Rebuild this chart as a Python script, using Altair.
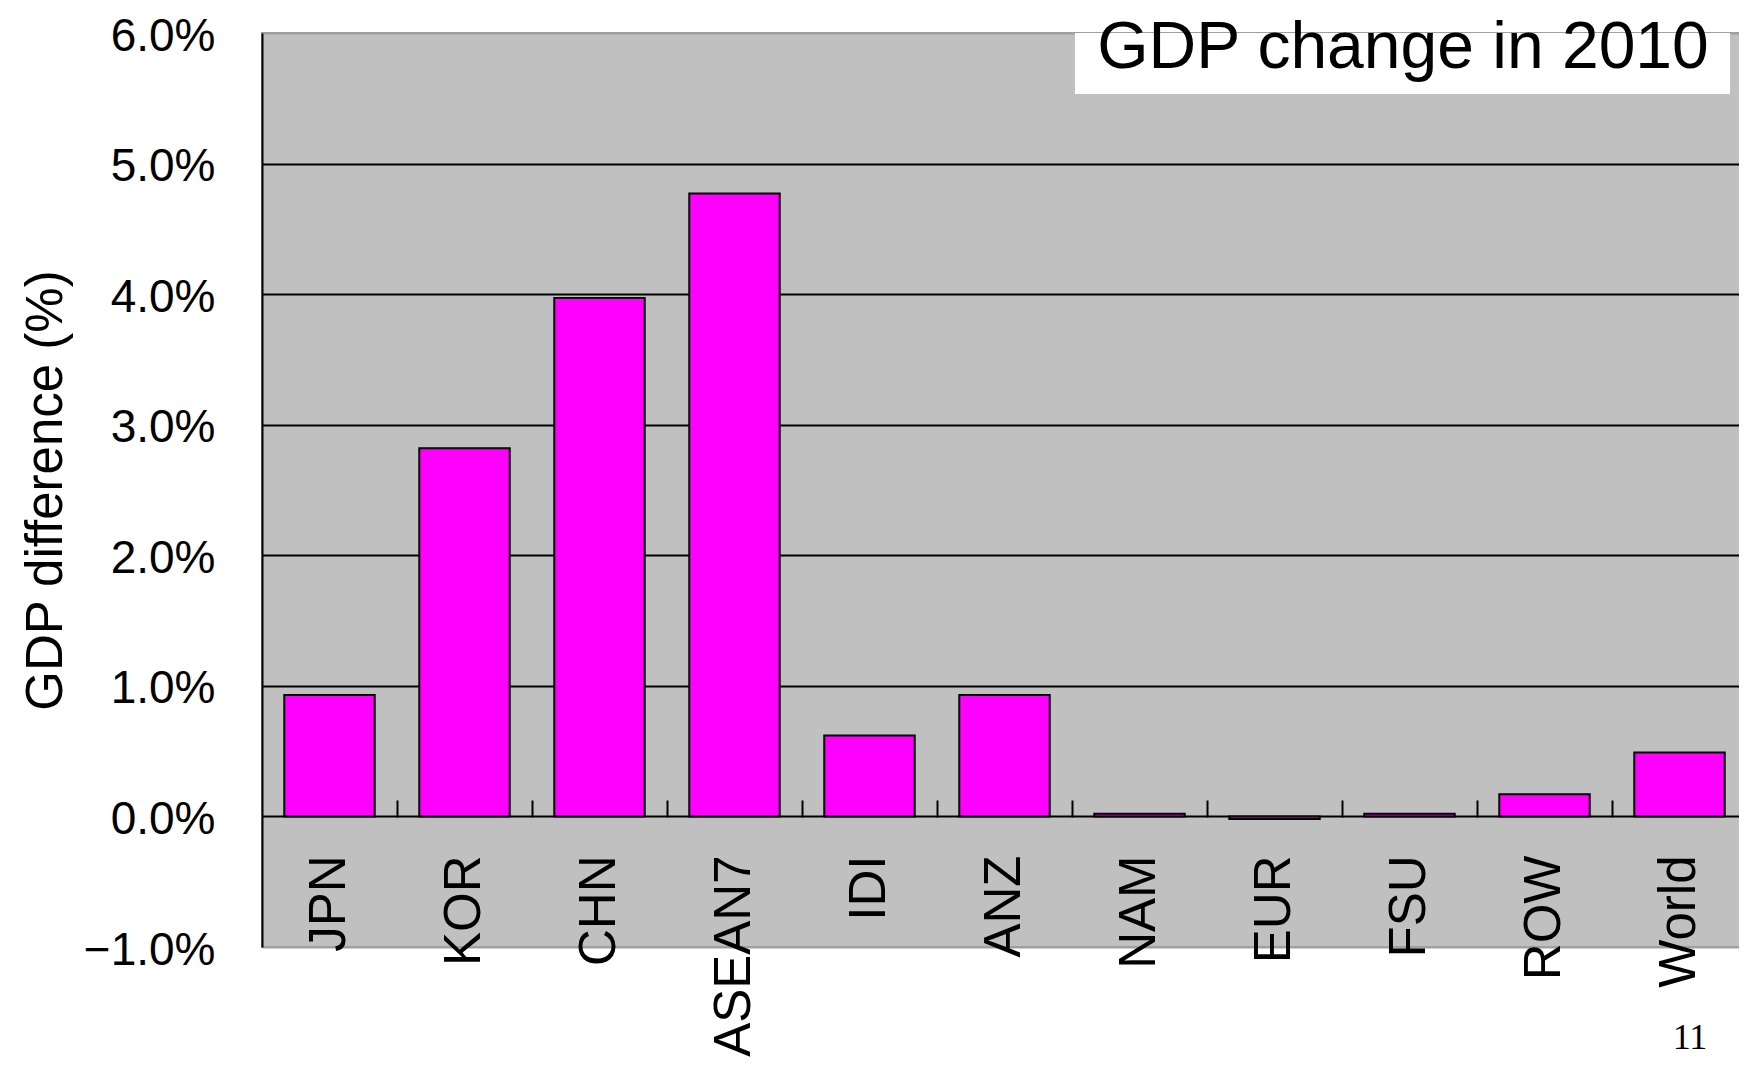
import altair as alt
import pandas as pd

# ---- data ----
regions = ["JPN", "KOR", "CHN", "ASEAN7", "IDI", "ANZ", "NAM", "EUR", "FSU", "ROW", "World"]
gdp_change = [0.0093, 0.0282, 0.0397, 0.0477, 0.0062, 0.0093, 0.0002, -0.0002, 0.0002, 0.0017, 0.0049]
y_ticks = [-0.01, 0.0, 0.01, 0.02, 0.03, 0.04, 0.05, 0.06]
chart_title = "GDP change in 2010"
y_title = "GDP difference (%)"
page_number = "11"

df = pd.DataFrame({"region": regions, "change": gdp_change})

FONT = "Liberation Sans"
W, H = 1485, 914
STEP = W / len(regions)

x_scale = alt.Scale(domain=regions, paddingInner=0.33, paddingOuter=0.165)
y_scale = alt.Scale(domain=[-0.01, 0.06], nice=False, zero=False)

grid_color = {
    "condition": {"test": "datum.value > -0.005 && datum.value < 0.055", "value": "black"},
    "value": "#a0a0a0",
}

bars = alt.Chart(df).mark_bar(color="#FF00FF", stroke="black", strokeWidth=2).encode(
    x=alt.X(
        "region:N", sort=regions, scale=x_scale,
        axis=alt.Axis(
            orient="bottom", offset=-130, title=None, labelAngle=-90,
            labelFontSize=51, labelFont=FONT, labelColor="black",
            labelPadding=38, labelLimit=0, ticks=False, domain=False, grid=False,
            labelAlign="right", labelBaseline="middle",
        ),
    ),
    y=alt.Y(
        "change:Q", scale=y_scale,
        axis=alt.Axis(
            values=y_ticks, format=".1%", title=y_title,
            labelFont=FONT, labelFontSize=46, labelColor="black",
            labelPadding=47, labelOffset=3, ticks=False,
            domain=True, domainColor="black", domainWidth=2,
            grid=True, gridColor=grid_color, gridWidth=2, gridOpacity=1,
            titleFont=FONT, titleFontSize=51, titleFontWeight="normal",
            titleColor="black", titleX=-216, titleY=457, titleAngle=270,
            titleAlign="center", titleBaseline="middle",
        ),
    ),
)

tick_layer = alt.Chart(df).mark_text(text="", opacity=0).encode(
    x=alt.X(
        "region:N", sort=regions, scale=x_scale,
        axis=alt.Axis(
            orient="top", offset=-784, labels=False, title=None,
            tickOffset=STEP / 2, tickSize=17, tickWidth=2, tickColor="black",
            domain=False, grid=False,
        ),
    ),
)

title_df = pd.DataFrame({"t": [chart_title]})
title_box = alt.Chart(title_df).mark_rect(fill="white").encode(
    x=alt.value(813), x2=alt.value(1468), y=alt.value(0), y2=alt.value(61)
)
title_text = alt.Chart(title_df).mark_text(
    font=FONT, fontSize=66, color="black", align="center", baseline="alphabetic"
).encode(text="t:N", x=alt.value(1141), y=alt.value(35))

page_df = pd.DataFrame({"p": [page_number]})
page_text = alt.Chart(page_df).mark_text(
    font="Liberation Serif", fontSize=36, color="black", align="center", baseline="alphabetic"
).encode(text="p:N", x=alt.value(1428), y=alt.value(1016))

chart = (
    alt.layer(bars, tick_layer, title_box, title_text, page_text)
    .resolve_axis(x="independent")
    .properties(
        width=W, height=H,
        autosize=alt.AutoSizeParams(type="none"),
        padding={"left": 254, "top": 25, "right": -8, "bottom": 111},
        background="white",
    )
    .configure_view(fill="#C0C0C0", stroke="#a0a0a0", strokeWidth=2)
)

chart.save("out.html", embed_options={"renderer": "svg", "actions": False})
